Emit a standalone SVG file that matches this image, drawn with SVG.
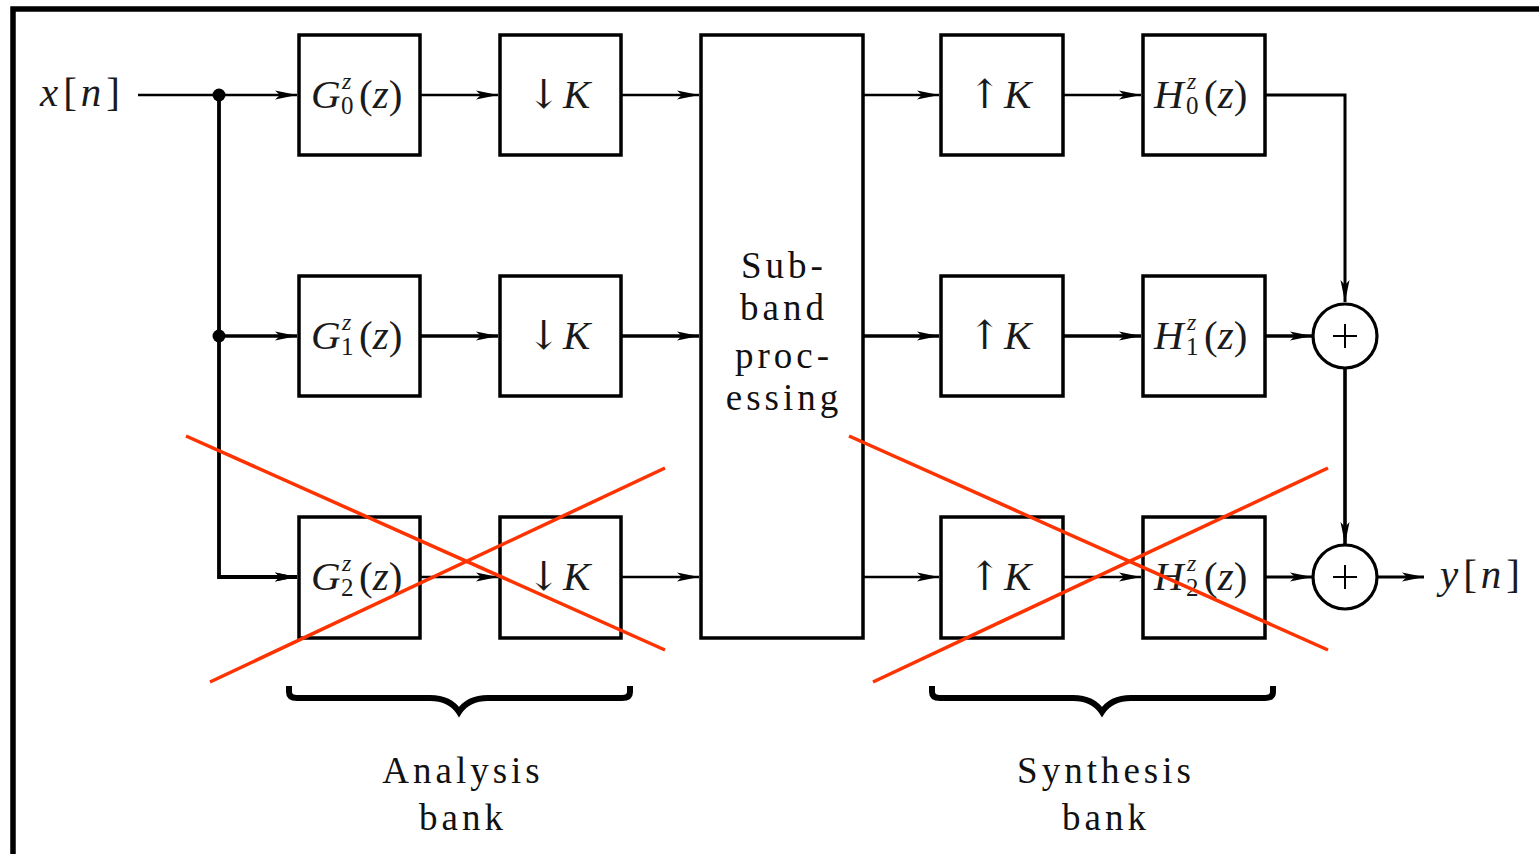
<svg xmlns="http://www.w3.org/2000/svg" width="1539" height="854" viewBox="0 0 1539 854">
<style>
.box{fill:none;stroke:#000;stroke-width:3.5}
.thin{fill:none;stroke:#000;stroke-width:2.6}
.thick{fill:none;stroke:#000;stroke-width:3.6}
text{font-family:"Liberation Serif","Times New Roman",serif}
.lbl{font-size:41px;fill:#1a1a1a}
.it{font-style:italic}
.sm{font-size:25px;fill:#1a1a1a}
.sup{font-size:24px;fill:#1a1a1a;font-style:italic}
.word{font-size:37px;fill:#111;letter-spacing:4px;text-anchor:middle}
.red{stroke:#ff3300;stroke-width:3.5;fill:none}
.sym{font-family:"DejaVu Serif","Liberation Serif",serif;font-size:40px;fill:#1a1a1a}
</style>
<defs>
<marker id="ar" markerUnits="userSpaceOnUse" viewBox="0 0 22 12" refX="22" refY="6" markerWidth="22" markerHeight="12" orient="auto">
<path d="M0,1.5 L22,6 L0,10.5 L5,6 z" fill="#000"/>
</marker>
</defs>
<rect width="1539" height="854" fill="#fff"/>
<path d="M13,856 L13,9 L1541,9" fill="none" stroke="#000" stroke-width="5.5"/>

<g id="input"><text class="lbl" x="40" y="106"><tspan class="it">x</tspan><tspan dx="5">[</tspan><tspan class="it" dx="4">n</tspan><tspan dx="5">]</tspan></text></g>
<g id="output"><text class="lbl" x="1440" y="588"><tspan class="it">y</tspan><tspan dx="5">[</tspan><tspan class="it" dx="4">n</tspan><tspan dx="5">]</tspan></text></g>

<g id="G0"><rect class="box" x="299" y="35" width="121" height="120"/>
<text class="lbl it" x="311" y="108">G</text><text class="sup" x="342" y="89">z</text><text class="sm" x="341" y="114">0</text><text class="lbl" x="359" y="108">(<tspan class="it">z</tspan>)</text></g>
<g id="G1"><rect class="box" x="299" y="276" width="121" height="120"/>
<text class="lbl it" x="311" y="349">G</text><text class="sup" x="342" y="330">z</text><text class="sm" x="341" y="355">1</text><text class="lbl" x="359" y="349">(<tspan class="it">z</tspan>)</text></g>
<g id="G2"><rect class="box" x="299" y="517" width="121" height="121"/>
<text class="lbl it" x="311" y="590">G</text><text class="sup" x="342" y="571">z</text><text class="sm" x="341" y="596">2</text><text class="lbl" x="359" y="590">(<tspan class="it">z</tspan>)</text></g>

<g id="D0"><rect class="box" x="500" y="35" width="121" height="120"/><text class="sym" x="527" y="108">↓</text><text class="lbl it" x="563" y="108">K</text></g>
<g id="D1"><rect class="box" x="500" y="276" width="121" height="120"/><text class="sym" x="527" y="349">↓</text><text class="lbl it" x="563" y="349">K</text></g>
<g id="D2"><rect class="box" x="500" y="517" width="121" height="121"/><text class="sym" x="527" y="590">↓</text><text class="lbl it" x="563" y="590">K</text></g>

<g id="SB"><rect class="box" x="701" y="35" width="162" height="603"/>
<text class="word" x="784" y="278">Sub-</text><text class="word" x="784" y="320">band</text><text class="word" x="784" y="368">proc-</text><text class="word" x="784" y="410">essing</text></g>

<g id="U0"><rect class="box" x="941" y="35" width="122" height="120"/><text class="sym" x="968" y="108">↑</text><text class="lbl it" x="1004" y="108">K</text></g>
<g id="U1"><rect class="box" x="941" y="276" width="122" height="120"/><text class="sym" x="968" y="349">↑</text><text class="lbl it" x="1004" y="349">K</text></g>
<g id="U2"><rect class="box" x="941" y="517" width="122" height="121"/><text class="sym" x="968" y="590">↑</text><text class="lbl it" x="1004" y="590">K</text></g>

<g id="H0"><rect class="box" x="1143" y="35" width="122" height="120"/>
<text class="lbl it" x="1154" y="108">H</text><text class="sup" x="1187" y="89">z</text><text class="sm" x="1186" y="114">0</text><text class="lbl" x="1204" y="108">(<tspan class="it">z</tspan>)</text></g>
<g id="H1"><rect class="box" x="1143" y="276" width="122" height="120"/>
<text class="lbl it" x="1154" y="349">H</text><text class="sup" x="1187" y="330">z</text><text class="sm" x="1186" y="355">1</text><text class="lbl" x="1204" y="349">(<tspan class="it">z</tspan>)</text></g>
<g id="H2"><rect class="box" x="1143" y="517" width="122" height="121"/>
<text class="lbl it" x="1154" y="590">H</text><text class="sup" x="1187" y="571">z</text><text class="sm" x="1186" y="596">2</text><text class="lbl" x="1204" y="590">(<tspan class="it">z</tspan>)</text></g>

<g id="S1"><circle cx="1345" cy="336" r="32" fill="none" stroke="#000" stroke-width="3.2"/><path d="M1333,336 H1357 M1345,324 V348" stroke="#000" stroke-width="2"/></g>
<g id="S2"><circle cx="1345" cy="577" r="32" fill="none" stroke="#000" stroke-width="3.2"/><path d="M1333,577 H1357 M1345,565 V589" stroke="#000" stroke-width="2"/></g>

<g id="connectors">
<path class="thin" d="M138,95 H297" marker-end="url(#ar)"/>
<path class="thick" d="M219,95 V577 H297" marker-end="url(#ar)" style="stroke-width:3.8"/>
<path class="thin" d="M219,577 H297" marker-end="url(#ar)"/>
<path class="thick" d="M219,336 H297" marker-end="url(#ar)"/>
<circle cx="219" cy="95" r="6.5" fill="#000"/>
<circle cx="219" cy="336" r="6.5" fill="#000"/>
<path class="thin" d="M420,95 H498" marker-end="url(#ar)"/>
<path class="thick" d="M420,336 H498" marker-end="url(#ar)"/>
<path class="thin" d="M420,577 H498" marker-end="url(#ar)"/>
<path class="thin" d="M621,95 H699" marker-end="url(#ar)"/>
<path class="thick" d="M621,336 H699" marker-end="url(#ar)"/>
<path class="thin" d="M621,577 H699" marker-end="url(#ar)"/>
<path class="thin" d="M863,95 H939" marker-end="url(#ar)"/>
<path class="thick" d="M863,336 H939" marker-end="url(#ar)"/>
<path class="thin" d="M863,577 H939" marker-end="url(#ar)"/>
<path class="thin" d="M1063,95 H1141" marker-end="url(#ar)"/>
<path class="thick" d="M1063,336 H1141" marker-end="url(#ar)"/>
<path class="thin" d="M1063,577 H1141" marker-end="url(#ar)"/>
<path class="thin" d="M1265,95 H1345 V302" marker-end="url(#ar)" style="stroke-width:3"/>
<path class="thick" d="M1265,336 H1312" marker-end="url(#ar)"/>
<path class="thin" d="M1265,577 H1312" marker-end="url(#ar)" style="stroke-width:3"/>
<path class="thick" d="M1345,368 V544" marker-end="url(#ar)"/>
<path class="thin" d="M1377,577 H1424" marker-end="url(#ar)" style="stroke-width:3"/>
</g>

<g id="braces">
<path d="M289,686 V692 Q289,698 297,698 H430 Q450,698 459,712 Q468,698 488,698 H622 Q630,698 630,692 V686" fill="none" stroke="#000" stroke-width="6"/>
<path d="M932,686 V692 Q932,698 940,698 H1073 Q1093,698 1102,712 Q1111,698 1131,698 H1265 Q1273,698 1273,692 V686" fill="none" stroke="#000" stroke-width="6"/>
</g>
<g id="labels">
<text class="word" x="463" y="783">Analysis</text><text class="word" x="463" y="830">bank</text>
<text class="word" x="1106" y="783">Synthesis</text><text class="word" x="1106" y="830">bank</text>
</g>
<g id="crosses">
<path class="red" d="M186,436 L665,650 M210,682 L665,468 M849,436 L1328,650 M873,682 L1328,468"/>
</g>
</svg>
